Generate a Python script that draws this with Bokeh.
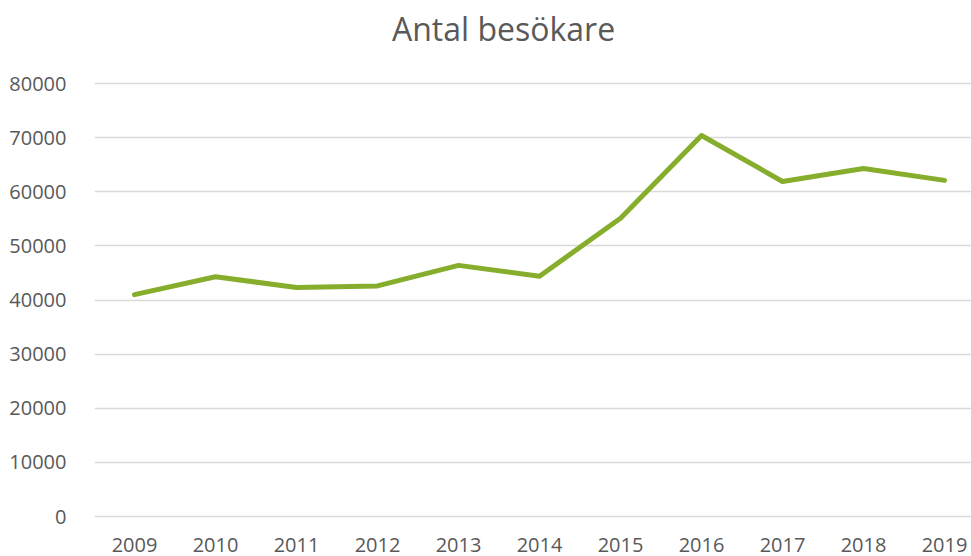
from bokeh.plotting import figure
from bokeh.models import FixedTicker, Range1d, Label, ColumnDataSource
from bokeh.embed import file_html
from bokeh.resources import INLINE

years = ["2009", "2010", "2011", "2012", "2013", "2014", "2015", "2016", "2017", "2018", "2019"]
visitors = [41000, 44300, 42300, 42600, 46400, 44400, 55100, 70400, 61900, 64300, 62100]
y_ticks = [0, 10000, 20000, 30000, 40000, 50000, 60000, 70000, 80000]
title_text = "Antal besökare"

FONT = "Open Sans"
GREY = "#595959"

xs = list(range(len(years)))
src = ColumnDataSource(dict(x=xs, y=visitors))

p = figure(width=971, height=556, output_backend="svg", toolbar_location=None,
           x_range=Range1d(-0.494, 10.333), y_range=Range1d(-554, 95335),
           min_border_left=94, min_border_right=0, min_border_top=0, min_border_bottom=37)
p.outline_line_color = None
p.background_fill_color = "white"
p.border_fill_color = "white"

p.line("x", "y", source=src, line_color="#86AE2C", line_width=5, line_join="round", line_cap="round")

p.xaxis.ticker = FixedTicker(ticks=xs)
p.xaxis.major_label_overrides = {i: y for i, y in enumerate(years)}
p.yaxis.ticker = FixedTicker(ticks=y_ticks)
for ax in (p.xaxis, p.yaxis):
    ax.axis_line_color = None
    ax.major_tick_line_color = None
    ax.minor_tick_line_color = None
    ax.major_label_text_font = FONT
    ax.major_label_text_font_size = "20px"
    ax.major_label_text_color = GREY
p.xaxis.major_label_standoff = 12
p.yaxis.major_label_standoff = 22
p.yaxis.formatter.use_scientific = False

p.xgrid.grid_line_color = None
p.ygrid.grid_line_color = "#D9D9D9"
p.ygrid.grid_line_width = 1.5

p.add_layout(Label(x=4.556, y=90161, text=title_text, text_align="center", text_baseline="middle",
                   text_font=FONT, text_font_size="32px", text_color=GREY))

open("out.html", "w").write(file_html(p, INLINE))
